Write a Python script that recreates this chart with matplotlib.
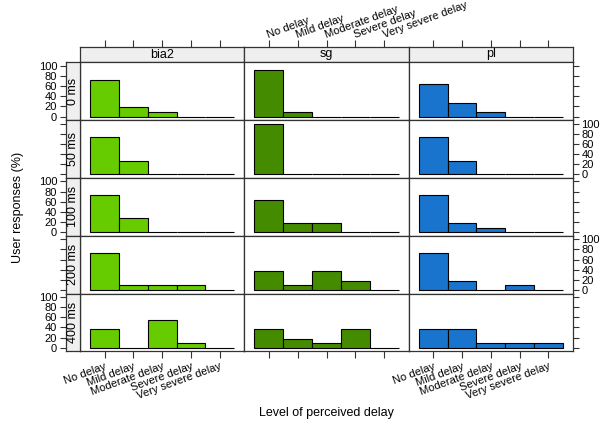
import numpy as np
import matplotlib.pyplot as plt

plt.rcParams['font.family'] = ['Liberation Sans', 'DejaVu Sans']

levels = ['No delay', 'Mild delay', 'Moderate delay', 'Severe delay', 'Very severe delay']
methods = ['bia2', 'sg', 'pl']
delays = ['0 ms', '50 ms', '100 ms', '200 ms', '400 ms']
colors = {'bia2': '#66cc00', 'sg': '#458b00', 'pl': '#1874cd'}

# percent of users per perceived delay level, one row per injected delay
bia2 = [[72.7, 18.2, 9.1, 0, 0],
        [72.7, 27.3, 0, 0, 0],
        [72.7, 27.3, 0, 0, 0],
        [72.7, 9.1, 9.1, 9.1, 0],
        [36.4, 0, 54.5, 9.1, 0]]
sg = [[90.9, 9.1, 0, 0, 0],
      [100, 0, 0, 0, 0],
      [63.6, 18.2, 18.2, 0, 0],
      [36.4, 9.1, 36.4, 18.2, 0],
      [36.4, 18.2, 9.1, 36.4, 0]]
pl = [[63.6, 27.3, 9.1, 0, 0],
      [72.7, 27.3, 0, 0, 0],
      [72.7, 18.2, 9.1, 0, 0],
      [72.7, 18.2, 0, 9.1, 0],
      [36.4, 36.4, 9.1, 9.1, 9.1]]
data = {'bia2': bia2, 'sg': sg, 'pl': pl}

W, H = 611, 429
fig = plt.figure(figsize=(W / 100, H / 100), dpi=100)

col_x = [80, 244.3, 408.7, 573]
row_y = [62.3, 120.1, 177.9, 235.7, 293.5, 351.3]
strip_top = 46.7
lstrip_x = 65.5
edge = '#333333'
strip_bg = '#efefef'
xlim = (0.15, 5.85)
ylim = (-7, 107)
pos = np.arange(1, 6)
yt = [0, 20, 40, 60, 80, 100]
fs = 8


def px_axes(x0, y0, x1, y1):
    return fig.add_axes([x0 / W, (H - y1) / H, (x1 - x0) / W, (y1 - y0) / H])


def style(ax):
    for s in ax.spines.values():
        s.set_color(edge)
        s.set_linewidth(0.9)
    ax.tick_params(colors=edge, labelcolor='black', labelsize=fs, width=0.8)


for j, m in enumerate(methods):
    # top strip with column name
    st = px_axes(col_x[j], strip_top, col_x[j + 1], row_y[0])
    st.set_facecolor(strip_bg)
    style(st)
    st.set_xlim(xlim)
    st.set_yticks([])
    st.set_xticks(pos)
    st.tick_params(axis='x', top=True, bottom=False, labelbottom=False,
                   labeltop=(m == 'sg'), direction='out', length=5, pad=1.5)
    if m == 'sg':
        st.set_xticklabels(levels, rotation=20, ha='left', va='baseline',
                           rotation_mode='anchor')
    st.text(0.5, 0.5, m, transform=st.transAxes, ha='center', va='center', fontsize=9)

    for i, d in enumerate(delays):
        ax = px_axes(col_x[j], row_y[i], col_x[j + 1], row_y[i + 1])
        style(ax)
        ax.bar(pos, data[m][i], width=1, color=colors[m], edgecolor='black', linewidth=0.8)
        ax.set_xlim(xlim)
        ax.set_ylim(ylim)
        ax.set_yticks(yt)
        ax.set_xticks(pos)
        ax.tick_params(axis='y', left=False, labelleft=False,
                       right=(j == 2), labelright=(j == 2 and i % 2 == 1),
                       direction='out', length=4, pad=2)
        last = i == len(delays) - 1
        ax.tick_params(axis='x', bottom=last, labelbottom=(last and m != 'sg'),
                       direction='out', length=5, pad=2)
        if last and m != 'sg':
            ax.set_xticklabels(levels, rotation=20, ha='right', rotation_mode='anchor')
        else:
            ax.set_xticklabels([])

        if j == 0:
            ls = px_axes(lstrip_x, row_y[i], col_x[0], row_y[i + 1])
            ls.set_facecolor(strip_bg)
            style(ls)
            ls.set_ylim(ylim)
            ls.set_xticks([])
            ls.set_yticks(yt)
            ls.tick_params(axis='y', left=True, labelleft=(i % 2 == 0),
                           direction='out', length=4, pad=2)
            if i % 2 == 1:
                ls.set_yticklabels([])
            ls.text(0.5, 0.5, d, transform=ls.transAxes, rotation=90,
                    ha='center', va='center', fontsize=9)

fig.text(18 / W, 1 - 207 / H, 'User responses (%)', rotation=90,
         ha='center', va='center', fontsize=9)
fig.text(326.5 / W, 1 - 413 / H, 'Level of perceived delay',
         ha='center', va='center', fontsize=9)

fig.savefig('out.png', dpi=100)
